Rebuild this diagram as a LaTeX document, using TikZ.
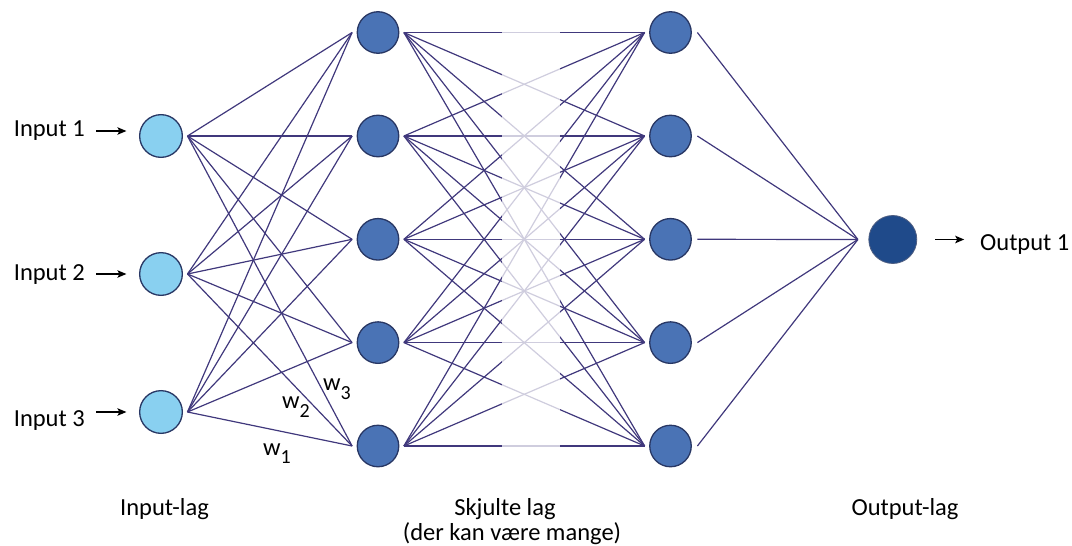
\documentclass[tikz,border=0pt]{standalone}
\usepackage{fontspec}
\setmainfont{Carlito}
\usetikzlibrary{arrows.meta}
\definecolor{edge}{RGB}{64,56,124}
\definecolor{inFill}{RGB}{137,208,240}
\definecolor{hidFill}{RGB}{74,115,181}
\definecolor{outFill}{RGB}{31,74,138}
\definecolor{rim}{RGB}{40,55,100}
\definecolor{outRim}{RGB}{80,95,130}
\begin{document}
\begin{tikzpicture}[x=1pt,y=-1pt,
  neuron/.style={circle, draw=rim, line width=1.3pt, inner sep=0pt},
  inneuron/.style={neuron, fill=inFill, minimum size=42.7pt},
  hidneuron/.style={neuron, fill=hidFill, minimum size=41.5pt},
  outneuron/.style={circle, fill=outFill, draw=outRim, line width=0.8pt, minimum size=48pt, inner sep=0pt},
  link/.style={draw=edge, line width=1.2pt},
  lbl/.style={font=\fontsize{24.5}{29}\selectfont, inner sep=0pt},
  arr/.style={-{Stealth[length=9pt,width=7.5pt,inset=2pt]}, line width=1.2pt, black}]
\useasboundingbox (0,0) rectangle (1072,546);

% neurons
\foreach \i/\y in {1/136,2/274,3/412}
  \node[inneuron] (in\i) at (161,\y) {};
\foreach \i/\y in {1/32.5,2/136,3/239.3,4/342.6,5/446} {
  \node[hidneuron] (h\i) at (378,\y) {};
  \node[hidneuron] (g\i) at (670.5,\y) {};
}
\node[outneuron] (out) at (892.8,239.5) {};

% connection points
\foreach \i in {1,2,3}
  \coordinate (inR\i) at ([xshift=4.5pt]in\i.east);
\foreach \i in {1,...,5} {
  \coordinate (hL\i) at ([xshift=-4.5pt]h\i.west);
  \coordinate (hR\i) at ([xshift=4.5pt]h\i.east);
  \coordinate (gL\i) at ([xshift=-4.5pt]g\i.west);
  \coordinate (gR\i) at ([xshift=5.5pt]g\i.east);
}
\coordinate (outL) at ([xshift=-10.5pt]out.west);

% connectors
\foreach \i in {1,2,3}
  \foreach \j in {1,...,5}
    \draw[link] (inR\i) -- (hL\j);
\foreach \i in {1,...,5}
  \foreach \j in {1,...,5}
    \draw[link] (hR\i) -- (gL\j);
\foreach \i in {1,...,5}
  \draw[link] (gR\i) -- (outL);

% fading band in the middle
\fill[white, opacity=0.75] (502,15) rectangle (560,465);

% input labels and arrows
\node[lbl, anchor=base east] (t1) at (85,136) {Input 1};
\node[lbl, anchor=base east] (t2) at (85,280) {Input 2};
\node[lbl, anchor=base east] (t3) at (85,426) {Input 3};
\draw[arr] ([xshift=-42.6pt,yshift=5pt]in1.west) -- ([xshift=-12.6pt,yshift=5pt]in1.west);
\draw[arr] ([xshift=-42.6pt]in2.west) -- ([xshift=-12.6pt]in2.west);
\draw[arr] ([xshift=-42.6pt]in3.west) -- ([xshift=-12.6pt]in3.west);

% output label and arrow
\node[lbl, anchor=base west] (o1) at (980,250) {Output 1};
\draw[arr] ([xshift=18pt]out.east) -- ([xshift=47pt]out.east);

% weight labels
\node[lbl, anchor=base west] (w1) at (263,455) {w\raisebox{-8pt}{\fontsize{20}{24}\selectfont 1}};
\node[lbl, anchor=base west] (w2) at (282,408) {w\raisebox{-9pt}{\fontsize{20}{24}\selectfont 2}};
\node[lbl, anchor=base west] (w3) at (323,390) {w\raisebox{-9pt}{\fontsize{20}{24}\selectfont 3}};

% layer labels
\node[lbl, anchor=base] (lin) at (164.5,515) {Input-lag};
\node[lbl, anchor=base] (lhid) at (505,515) {Skjulte lag};
\node[lbl, anchor=base] (lhid2) at (512,540) {(der kan være mange)};
\node[lbl, anchor=base] (lout) at (905,515) {Output-lag};
\end{tikzpicture}
\end{document}
